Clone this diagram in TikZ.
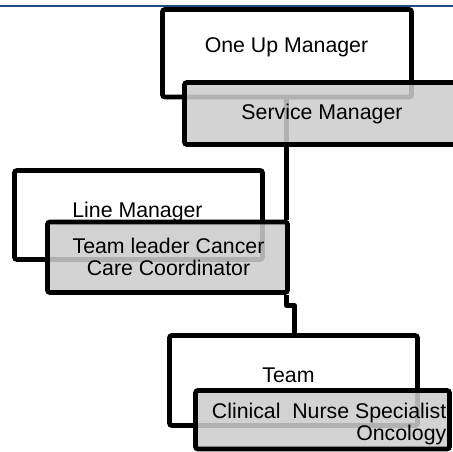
\documentclass[tikz,border=0pt]{standalone}
\usepackage{fontspec}
\setmainfont{Liberation Sans}
\usetikzlibrary{fit}
\definecolor{topblue}{RGB}{31,78,125}
\definecolor{boxgray}{RGB}{204,204,204}
\begin{document}
\begin{tikzpicture}[x=1pt,y=-1pt,
  box/.style={draw=black, line width=4.8pt, rounded corners=2.5pt, inner sep=0pt},
  whitebox/.style={box, fill=white},
  graybox/.style={box, fill=boxgray, fill opacity=0.87},
  conn/.style={draw=black, line width=4.6pt},
  lbl/.style={inner sep=0pt, font=\fontsize{21.3}{22}\selectfont}]
\useasboundingbox (0,0) rectangle (453,452);
\clip (0,0) rectangle (453,452);
\draw[topblue, line width=2.2pt] (0,6) -- (453,6);
\coordinate (cx) at (286.5,0);
\coordinate (cy) at (294.5,0);
% level 1
\node[whitebox, fit={(162.5,9.5) (411.5,97)}] (box1) {};
% level 2 boxes, connector from level 1
\node[whitebox, fit={(14.5,170.5) (262.5,259.5)}] (box3) {};
\node[graybox, fit={(47.5,222) (287.5,292.5)}] (box4) {};
\draw[conn] (box1.south -| cx) -- (box4.north -| cx);
\node[graybox, fit={(184.5,82.5) (475,144.5)}] (box2) {};
% level 3
\coordinate (jog) at (286.5,305.5);
\node[whitebox, fit={(169.5,335.5) (417.5,425.5)}] (box5) {};
\draw[conn, line join=round] (box4.south -| cx) -- (jog) -- (jog -| cy) -- (box5.north -| cy);
\node[graybox, fit={(195.5,390.5) (449.5,449)}] (box6) {};
% texts
\node[lbl, anchor=base] (t1) at (286.5,53) {One Up Manager};
\node[lbl, anchor=base] (t2) at (322,120) {Service Manager};
\node[lbl, anchor=base] (t3) at (137.5,217) {Line Manager};
\node[lbl, anchor=base] (t4a) at (168.5,253) {Team leader Cancer};
\node[lbl, anchor=base] (t4b) at (168.5,275) {Care Coordinator};
\node[lbl, anchor=base] (t5) at (288.5,382) {Team};
\node[lbl, anchor=base east] (t6a) at (446.5,418) {Clinical\ \ Nurse Specialist};
\node[lbl, anchor=base east] (t6b) at (446.5,440) {Oncology};
\end{tikzpicture}
\end{document}
